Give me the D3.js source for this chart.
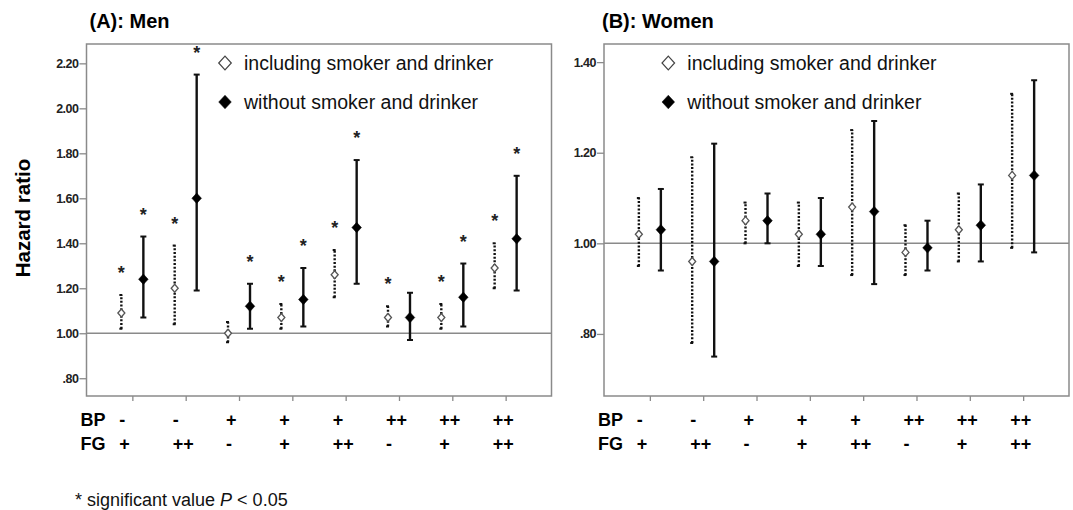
<!DOCTYPE html>
<html>
<head>
<meta charset="utf-8">
<script src="https://cdn.jsdelivr.net/npm/d3@7"></script>
<style>
  body { margin: 0; background: #fff; }
  text { font-family: Arial, 'Liberation Sans', sans-serif; }
</style>
</head>
<body>
<svg id="chart" width="1073" height="510"></svg>
<script>
// BP / FG level for each group
const bpLabels = ['-', '-', '+', '+', '+', '++', '++', '++'];
const fgLabels = ['+', '++', '-', '+', '++', '-', '+', '++'];

// (A) men: hazard ratio and 95% CI
const menInclHR = [1.09, 1.20, 1.00, 1.07, 1.26, 1.07, 1.07, 1.29];
const menInclLo = [1.02, 1.04, 0.96, 1.02, 1.16, 1.03, 1.02, 1.20];
const menInclHi = [1.17, 1.39, 1.05, 1.13, 1.37, 1.12, 1.13, 1.40];
const menExclHR = [1.24, 1.60, 1.12, 1.15, 1.47, 1.07, 1.16, 1.42];
const menExclLo = [1.07, 1.19, 1.02, 1.03, 1.22, 0.97, 1.03, 1.19];
const menExclHi = [1.43, 2.15, 1.22, 1.29, 1.77, 1.18, 1.31, 1.70];
const menInclSig = [true, true, false, true, true, true, true, true];
const menExclSig = [true, true, true, true, true, false, true, true];

// (B) women: hazard ratio and 95% CI
const womenInclHR = [1.02, 0.96, 1.05, 1.02, 1.08, 0.98, 1.03, 1.15];
const womenInclLo = [0.95, 0.78, 1.00, 0.95, 0.93, 0.93, 0.96, 0.99];
const womenInclHi = [1.10, 1.19, 1.09, 1.09, 1.25, 1.04, 1.11, 1.33];
const womenExclHR = [1.03, 0.96, 1.05, 1.02, 1.07, 0.99, 1.04, 1.15];
const womenExclLo = [0.94, 0.75, 1.00, 0.95, 0.91, 0.94, 0.96, 0.98];
const womenExclHi = [1.12, 1.22, 1.11, 1.10, 1.27, 1.05, 1.13, 1.36];
const womenInclSig = [false, false, false, false, false, false, false, false];
const womenExclSig = [false, false, false, false, false, false, false, false];

const menTicks = [0.8, 1.0, 1.2, 1.4, 1.6, 1.8, 2.0, 2.2];
const womenTicks = [0.8, 1.0, 1.2, 1.4];
const legendLabels = ['including smoker and drinker', 'without smoker and drinker'];

const svg = d3.select('#chart');
const fmt = v => d3.format('.2f')(v).replace(/^0/, '');
const diamond = (w, h) => `M0,${-h}L${w},0L0,${h}L${-w},0Z`;
const gray = '#8a8a8a';

function drawPanel(o) {
  const top = 44, width = 465, height = 352;
  const left = o.left;

  const x = d3.scalePoint()
    .domain(d3.range(bpLabels.length))
    .range([left, left + width])
    .padding(0.86);
  const y = d3.scaleLinear()
    .domain(o.domain)
    .range([top + height, top]);

  svg.append('text')
    .attr('x', left + o.titleDx)
    .attr('y', 28)
    .attr('font-size', '20px')
    .attr('font-weight', 'bold')
    .text(o.title);

  // y axis
  const yAxis = svg.append('g')
    .attr('transform', `translate(${left},0)`)
    .call(d3.axisLeft(y).tickValues(o.ticks).tickFormat(fmt).tickSize(7).tickPadding(1));
  yAxis.select('.domain').remove();
  yAxis.selectAll('line').attr('stroke', gray).attr('stroke-width', 1.3);
  yAxis.selectAll('text')
    .attr('font-size', '12.5px')
    .attr('font-weight', 'bold')
    .attr('letter-spacing', '-0.5')
    .attr('fill', '#222');

  // x ticks
  const xAxis = svg.append('g')
    .attr('transform', `translate(0,${top + height})`)
    .call(d3.axisBottom(x).tickSize(5).tickFormat(''));
  xAxis.select('.domain').remove();
  xAxis.selectAll('line').attr('stroke', gray).attr('stroke-width', 1.3);

  // box and reference line
  svg.append('rect')
    .attr('x', left).attr('y', top)
    .attr('width', width).attr('height', height)
    .attr('fill', 'none')
    .attr('stroke', gray)
    .attr('stroke-width', 1.5);
  svg.append('line')
    .attr('x1', left).attr('x2', left + width)
    .attr('y1', y(1)).attr('y2', y(1))
    .attr('stroke', gray)
    .attr('stroke-width', 1.5);

  // category labels
  const rows = [['BP', bpLabels, 426], ['FG', fgLabels, 450]];
  rows.forEach(([name, labels, yy]) => {
    svg.append('text')
      .attr('x', left - 6).attr('y', yy)
      .attr('font-size', '18px').attr('font-weight', 'bold')
      .text(name);
    svg.append('g').selectAll('text')
      .data(labels)
      .join('text')
      .attr('x', (d, i) => x(i) - 13)
      .attr('y', yy)
      .attr('font-size', '18px').attr('font-weight', 'bold')
      .text(d => d);
  });

  // error bars
  o.series.forEach(s => {
    const g = svg.append('g');
    const data = s.hr.map((hr, i) => ({i, hr, lo: s.lo[i], hi: s.hi[i], sig: s.sig[i]}));
    const cx = d => x(d.i) + s.dx;

    g.selectAll('line.bar')
      .data(data).join('line')
      .attr('class', 'bar')
      .attr('x1', cx).attr('x2', cx)
      .attr('y1', d => y(d.lo)).attr('y2', d => y(d.hi))
      .attr('stroke', '#111')
      .attr('stroke-width', 2.4)
      .attr('stroke-dasharray', s.dotted ? '2,1.7' : null);

    ['lo', 'hi'].forEach(k => {
      g.selectAll('line.cap-' + k)
        .data(data).join('line')
        .attr('class', 'cap-' + k)
        .attr('x1', d => cx(d) - (s.dotted ? 2 : 3))
        .attr('x2', d => cx(d) + (s.dotted ? 1 : 3))
        .attr('y1', d => y(d[k])).attr('y2', d => y(d[k]))
        .attr('stroke', '#111')
        .attr('stroke-width', 2);
    });

    g.selectAll('path')
      .data(data).join('path')
      .attr('transform', d => `translate(${cx(d)},${y(d.hr)})`)
      .attr('d', s.dotted ? diamond(3.5, 4) : diamond(4.8, 5.2))
      .attr('fill', s.dotted ? '#fff' : '#000')
      .attr('stroke', s.dotted ? '#555' : '#000')
      .attr('stroke-width', s.dotted ? 1.3 : 0.5);

    g.selectAll('text')
      .data(data.filter(d => d.sig)).join('text')
      .attr('x', cx)
      .attr('y', d => y(d.hi) - 26 + 10)
      .attr('text-anchor', 'middle')
      .attr('font-size', '18px')
      .attr('font-weight', 'bold')
      .attr('fill', '#222')
      .text('*');
  });

  // legend
  legendLabels.forEach((label, i) => {
    const ly = 63 + i * 39;
    svg.append('path')
      .attr('transform', `translate(${left + o.legendDx},${ly})`)
      .attr('d', diamond(6.3, 6.8))
      .attr('fill', i === 0 ? '#fff' : '#000')
      .attr('stroke', i === 0 ? '#444' : '#000')
      .attr('stroke-width', i === 0 ? 1.2 : 0.5);
    svg.append('text')
      .attr('x', left + o.legendDx + 19)
      .attr('y', ly + 6.5)
      .attr('font-size', '19.5px')
      .attr('fill', '#111')
      .text(label);
  });
}

drawPanel({
  left: 86.5,
  title: '(A): Men',
  titleDx: 3,
  domain: [0.721, 2.286],
  ticks: menTicks,
  legendDx: 138.5,
  series: [
    {hr: menInclHR, lo: menInclLo, hi: menInclHi, sig: menInclSig, dx: -11, dotted: true},
    {hr: menExclHR, lo: menExclLo, hi: menExclHi, sig: menExclSig, dx: 11, dotted: false}
  ]
});

drawPanel({
  left: 604,
  title: '(B): Women',
  titleDx: -2,
  domain: [0.663, 1.44],
  ticks: womenTicks,
  legendDx: 64.3,
  series: [
    {hr: womenInclHR, lo: womenInclLo, hi: womenInclHi, sig: womenInclSig, dx: -11, dotted: true},
    {hr: womenExclHR, lo: womenExclLo, hi: womenExclHi, sig: womenExclSig, dx: 11, dotted: false}
  ]
});

// y axis title
svg.append('text')
  .attr('transform', 'translate(30,218) rotate(-90)')
  .attr('text-anchor', 'middle')
  .attr('font-size', '20.5px')
  .attr('font-weight', 'bold')
  .text('Hazard ratio');

// footnote
const note = svg.append('text')
  .attr('x', 75)
  .attr('y', 506)
  .attr('font-size', '18px')
  .attr('fill', '#111');
note.append('tspan').text('* significant value ');
note.append('tspan').attr('font-style', 'italic').text('P');
note.append('tspan').text(' < 0.05');
</script>
</body>
</html>
